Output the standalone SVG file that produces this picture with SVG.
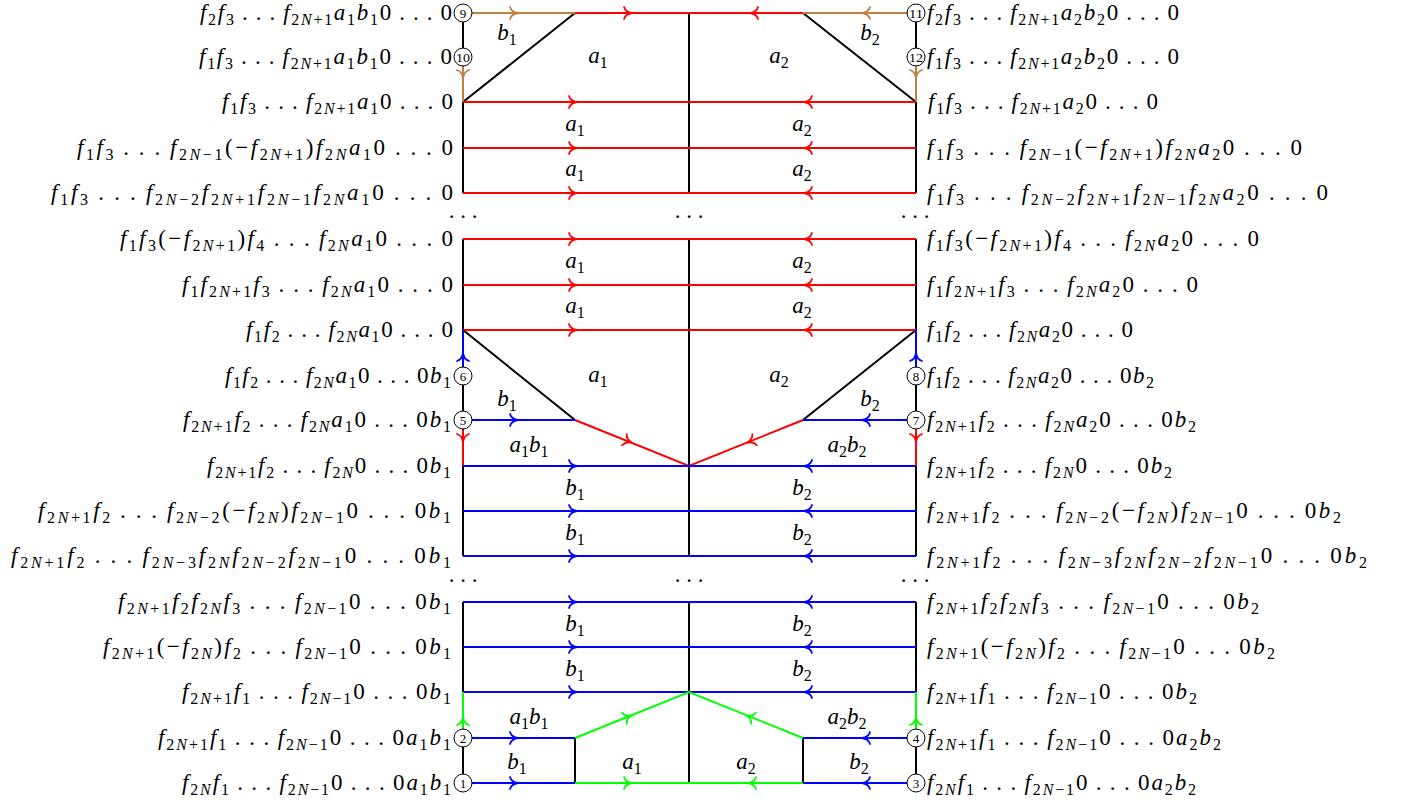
<svg xmlns="http://www.w3.org/2000/svg" width="1403" height="803" viewBox="0 0 1403 803">
<style>
.t{font-family:"Liberation Serif","Times New Roman",serif;font-size:23px;fill:#000}
.i{font-style:italic}
.s{font-size:16px;baseline-shift:-4.5px}
.c{text-anchor:middle}
.ln{fill:none;stroke-width:2}
.k{stroke:#000}.r{stroke:#f00}.b{stroke:#00f}.g{stroke:#0f0}.o{stroke:#bf8040}
.node circle{fill:#fff;stroke:#000;stroke-width:1}
.node text{font-family:"Liberation Serif","Times New Roman",serif;font-size:13px;text-anchor:middle;fill:#000}
</style>
<defs>
<path id="ar" d="M-6,-6 C-5,-2.5 -2,-0.6 2,0 M-6,6 C-5,2.5 -2,0.6 2,0" fill="none" stroke-width="1.8" stroke-linecap="round"/>
</defs>
<rect width="1403" height="803" fill="#fff"/>
<g id="connectors">
<path class="ln k" d="M575,13L463,102M803,13L916,102M689,13V193M463,13V57M916,13V57M463,102V193M916,102V193"/>
<path class="ln o" d="M463,13H575M803,13H916M463,57V102M916,57V102"/>
<path class="ln r" d="M575,13H803M463,102H916M463,148H916M463,193H916"/>
<path class="ln k" d="M689,239V556M463,239V330M916,239V330M463,376V420M916,376V420M463,466V556M916,466V556M463,330L575,420M916,330L803,420"/>
<path class="ln r" d="M463,239H916M463,285H916M463,330H916M463,420V466M916,420V466M575,420L689,466L803,420"/>
<path class="ln b" d="M463,330V376M916,330V376M463,420H575M916,420H803M463,466H916M463,511H916M463,556H916"/>
<path class="ln k" d="M689,602V783M463,602V692M916,602V692M463,738V783M916,738V783M575,738V783M803,738V783"/>
<path class="ln b" d="M463,602H916M463,647H916M463,692H916M463,738H575M463,783H575M916,738H803M916,783H803"/>
<path class="ln g" d="M463,692V738M916,692V738M575,738L689,692L803,738M575,783H803"/>
<use href="#ar" class="o" transform="translate(516,13)"/>
<use href="#ar" class="r" transform="translate(630,13)"/>
<use href="#ar" class="r" transform="translate(752,13) rotate(180)"/>
<use href="#ar" class="o" transform="translate(864,13) rotate(180)"/>
<use href="#ar" class="o" transform="translate(463,76) rotate(90)"/>
<use href="#ar" class="o" transform="translate(916,76) rotate(90)"/>
<use href="#ar" class="r" transform="translate(575,102)"/>
<use href="#ar" class="r" transform="translate(806,102) rotate(180)"/>
<use href="#ar" class="r" transform="translate(575,148)"/>
<use href="#ar" class="r" transform="translate(806,148) rotate(180)"/>
<use href="#ar" class="r" transform="translate(575,193)"/>
<use href="#ar" class="r" transform="translate(806,193) rotate(180)"/>
<use href="#ar" class="r" transform="translate(575,239)"/>
<use href="#ar" class="r" transform="translate(806,239) rotate(180)"/>
<use href="#ar" class="r" transform="translate(575,285)"/>
<use href="#ar" class="r" transform="translate(806,285) rotate(180)"/>
<use href="#ar" class="r" transform="translate(575,330)"/>
<use href="#ar" class="r" transform="translate(806,330) rotate(180)"/>
<use href="#ar" class="b" transform="translate(463,355) rotate(-90)"/>
<use href="#ar" class="b" transform="translate(916,355) rotate(-90)"/>
<use href="#ar" class="b" transform="translate(516,420)"/>
<use href="#ar" class="b" transform="translate(864,420) rotate(180)"/>
<use href="#ar" class="r" transform="translate(463,440) rotate(90)"/>
<use href="#ar" class="r" transform="translate(916,440) rotate(90)"/>
<use href="#ar" class="r" transform="translate(630,442) rotate(22)"/>
<use href="#ar" class="r" transform="translate(749,442) rotate(158)"/>
<use href="#ar" class="b" transform="translate(575,466)"/>
<use href="#ar" class="b" transform="translate(806,466) rotate(180)"/>
<use href="#ar" class="b" transform="translate(575,511)"/>
<use href="#ar" class="b" transform="translate(806,511) rotate(180)"/>
<use href="#ar" class="b" transform="translate(575,556)"/>
<use href="#ar" class="b" transform="translate(806,556) rotate(180)"/>
<use href="#ar" class="b" transform="translate(575,602)"/>
<use href="#ar" class="b" transform="translate(806,602) rotate(180)"/>
<use href="#ar" class="b" transform="translate(575,647)"/>
<use href="#ar" class="b" transform="translate(806,647) rotate(180)"/>
<use href="#ar" class="b" transform="translate(575,692)"/>
<use href="#ar" class="b" transform="translate(806,692) rotate(180)"/>
<use href="#ar" class="g" transform="translate(463,719) rotate(-90)"/>
<use href="#ar" class="g" transform="translate(916,719) rotate(-90)"/>
<use href="#ar" class="b" transform="translate(516,738)"/>
<use href="#ar" class="b" transform="translate(516,783)"/>
<use href="#ar" class="b" transform="translate(864,738) rotate(180)"/>
<use href="#ar" class="b" transform="translate(864,783) rotate(180)"/>
<use href="#ar" class="g" transform="translate(630,716) rotate(-22)"/>
<use href="#ar" class="g" transform="translate(748,716) rotate(-158)"/>
<use href="#ar" class="g" transform="translate(630,783)"/>
<use href="#ar" class="g" transform="translate(750,783) rotate(180)"/>
</g>
<g id="nodes">
<g id="n1" class="node"><circle cx="463" cy="783" r="9"/><text x="463" y="787.5">1</text></g>
<g id="n2" class="node"><circle cx="463" cy="738" r="9"/><text x="463" y="742.5">2</text></g>
<g id="n3" class="node"><circle cx="916" cy="783" r="9"/><text x="916" y="787.5">3</text></g>
<g id="n4" class="node"><circle cx="916" cy="738" r="9"/><text x="916" y="742.5">4</text></g>
<g id="n5" class="node"><circle cx="463" cy="420" r="9"/><text x="463" y="424.5">5</text></g>
<g id="n6" class="node"><circle cx="463" cy="376" r="9"/><text x="463" y="380.5">6</text></g>
<g id="n7" class="node"><circle cx="916" cy="420" r="9"/><text x="916" y="424.5">7</text></g>
<g id="n8" class="node"><circle cx="916" cy="376" r="9"/><text x="916" y="380.5">8</text></g>
<g id="n9" class="node"><circle cx="463" cy="13" r="9"/><text x="463" y="17.5">9</text></g>
<g id="n10" class="node"><circle cx="463" cy="57" r="9"/><text x="463" y="61.5" textLength="14" lengthAdjust="spacingAndGlyphs">10</text></g>
<g id="n11" class="node"><circle cx="916" cy="13" r="9"/><text x="916" y="17.5" textLength="14" lengthAdjust="spacingAndGlyphs">11</text></g>
<g id="n12" class="node"><circle cx="916" cy="57" r="9"/><text x="916" y="61.5" textLength="14" lengthAdjust="spacingAndGlyphs">12</text></g>
</g>
<g id="states-left" class="t">
<g id="L13"><text x="200" y="20" textLength="252" lengthAdjust="spacing"><tspan class="i">f</tspan><tspan class="s">2</tspan><tspan class="i">f</tspan><tspan class="s">3</tspan>&#8201;.&#8201;.&#8201;.&#8201;<tspan class="i">f</tspan><tspan class="s">2<tspan class="i">N</tspan>+1</tspan><tspan class="i">a</tspan><tspan class="s">1</tspan><tspan class="i">b</tspan><tspan class="s">1</tspan>0&#8201;.&#8201;.&#8201;.&#8201;0</text></g>
<g id="L57"><text x="199" y="64" textLength="253" lengthAdjust="spacing"><tspan class="i">f</tspan><tspan class="s">1</tspan><tspan class="i">f</tspan><tspan class="s">3</tspan>&#8201;.&#8201;.&#8201;.&#8201;<tspan class="i">f</tspan><tspan class="s">2<tspan class="i">N</tspan>+1</tspan><tspan class="i">a</tspan><tspan class="s">1</tspan><tspan class="i">b</tspan><tspan class="s">1</tspan>0&#8201;.&#8201;.&#8201;.&#8201;0</text></g>
<g id="L102"><text x="222" y="109" textLength="231" lengthAdjust="spacing"><tspan class="i">f</tspan><tspan class="s">1</tspan><tspan class="i">f</tspan><tspan class="s">3</tspan>&#8201;.&#8201;.&#8201;.&#8201;<tspan class="i">f</tspan><tspan class="s">2<tspan class="i">N</tspan>+1</tspan><tspan class="i">a</tspan><tspan class="s">1</tspan>0&#8201;.&#8201;.&#8201;.&#8201;0</text></g>
<g id="L148"><text x="77" y="155" textLength="376" lengthAdjust="spacing"><tspan class="i">f</tspan><tspan class="s">1</tspan><tspan class="i">f</tspan><tspan class="s">3</tspan>&#8201;.&#8201;.&#8201;.&#8201;<tspan class="i">f</tspan><tspan class="s">2<tspan class="i">N</tspan>−1</tspan>(−<tspan class="i">f</tspan><tspan class="s">2<tspan class="i">N</tspan>+1</tspan>)<tspan class="i">f</tspan><tspan class="s">2<tspan class="i">N</tspan></tspan><tspan class="i">a</tspan><tspan class="s">1</tspan>0&#8201;.&#8201;.&#8201;.&#8201;0</text></g>
<g id="L193"><text x="51" y="200" textLength="402" lengthAdjust="spacing"><tspan class="i">f</tspan><tspan class="s">1</tspan><tspan class="i">f</tspan><tspan class="s">3</tspan>&#8201;.&#8201;.&#8201;.&#8201;<tspan class="i">f</tspan><tspan class="s">2<tspan class="i">N</tspan>−2</tspan><tspan class="i">f</tspan><tspan class="s">2<tspan class="i">N</tspan>+1</tspan><tspan class="i">f</tspan><tspan class="s">2<tspan class="i">N</tspan>−1</tspan><tspan class="i">f</tspan><tspan class="s">2<tspan class="i">N</tspan></tspan><tspan class="i">a</tspan><tspan class="s">1</tspan>0&#8201;.&#8201;.&#8201;.&#8201;0</text></g>
<g id="L239"><text x="120" y="246" textLength="333" lengthAdjust="spacing"><tspan class="i">f</tspan><tspan class="s">1</tspan><tspan class="i">f</tspan><tspan class="s">3</tspan>(−<tspan class="i">f</tspan><tspan class="s">2<tspan class="i">N</tspan>+1</tspan>)<tspan class="i">f</tspan><tspan class="s">4</tspan>&#8201;.&#8201;.&#8201;.&#8201;<tspan class="i">f</tspan><tspan class="s">2<tspan class="i">N</tspan></tspan><tspan class="i">a</tspan><tspan class="s">1</tspan>0&#8201;.&#8201;.&#8201;.&#8201;0</text></g>
<g id="L285"><text x="182" y="292" textLength="271" lengthAdjust="spacing"><tspan class="i">f</tspan><tspan class="s">1</tspan><tspan class="i">f</tspan><tspan class="s">2<tspan class="i">N</tspan>+1</tspan><tspan class="i">f</tspan><tspan class="s">3</tspan>&#8201;.&#8201;.&#8201;.&#8201;<tspan class="i">f</tspan><tspan class="s">2<tspan class="i">N</tspan></tspan><tspan class="i">a</tspan><tspan class="s">1</tspan>0&#8201;.&#8201;.&#8201;.&#8201;0</text></g>
<g id="L330"><text x="246" y="337" textLength="207" lengthAdjust="spacing"><tspan class="i">f</tspan><tspan class="s">1</tspan><tspan class="i">f</tspan><tspan class="s">2</tspan>&#8201;.&#8201;.&#8201;.&#8201;<tspan class="i">f</tspan><tspan class="s">2<tspan class="i">N</tspan></tspan><tspan class="i">a</tspan><tspan class="s">1</tspan>0&#8201;.&#8201;.&#8201;.&#8201;0</text></g>
<g id="L376"><text x="225" y="383" textLength="226" lengthAdjust="spacing"><tspan class="i">f</tspan><tspan class="s">1</tspan><tspan class="i">f</tspan><tspan class="s">2</tspan>&#8201;.&#8201;.&#8201;.&#8201;<tspan class="i">f</tspan><tspan class="s">2<tspan class="i">N</tspan></tspan><tspan class="i">a</tspan><tspan class="s">1</tspan>0&#8201;.&#8201;.&#8201;.&#8201;0<tspan class="i">b</tspan><tspan class="s">1</tspan></text></g>
<g id="L420"><text x="183" y="427" textLength="268" lengthAdjust="spacing"><tspan class="i">f</tspan><tspan class="s">2<tspan class="i">N</tspan>+1</tspan><tspan class="i">f</tspan><tspan class="s">2</tspan>&#8201;.&#8201;.&#8201;.&#8201;<tspan class="i">f</tspan><tspan class="s">2<tspan class="i">N</tspan></tspan><tspan class="i">a</tspan><tspan class="s">1</tspan>0&#8201;.&#8201;.&#8201;.&#8201;0<tspan class="i">b</tspan><tspan class="s">1</tspan></text></g>
<g id="L466"><text x="207" y="473" textLength="244" lengthAdjust="spacing"><tspan class="i">f</tspan><tspan class="s">2<tspan class="i">N</tspan>+1</tspan><tspan class="i">f</tspan><tspan class="s">2</tspan>&#8201;.&#8201;.&#8201;.&#8201;<tspan class="i">f</tspan><tspan class="s">2<tspan class="i">N</tspan></tspan>0&#8201;.&#8201;.&#8201;.&#8201;0<tspan class="i">b</tspan><tspan class="s">1</tspan></text></g>
<g id="L511"><text x="38" y="518" textLength="413" lengthAdjust="spacing"><tspan class="i">f</tspan><tspan class="s">2<tspan class="i">N</tspan>+1</tspan><tspan class="i">f</tspan><tspan class="s">2</tspan>&#8201;.&#8201;.&#8201;.&#8201;<tspan class="i">f</tspan><tspan class="s">2<tspan class="i">N</tspan>−2</tspan>(−<tspan class="i">f</tspan><tspan class="s">2<tspan class="i">N</tspan></tspan>)<tspan class="i">f</tspan><tspan class="s">2<tspan class="i">N</tspan>−1</tspan>0&#8201;.&#8201;.&#8201;.&#8201;0<tspan class="i">b</tspan><tspan class="s">1</tspan></text></g>
<g id="L556"><text x="11" y="563" textLength="440" lengthAdjust="spacing"><tspan class="i">f</tspan><tspan class="s">2<tspan class="i">N</tspan>+1</tspan><tspan class="i">f</tspan><tspan class="s">2</tspan>&#8201;.&#8201;.&#8201;.&#8201;<tspan class="i">f</tspan><tspan class="s">2<tspan class="i">N</tspan>−3</tspan><tspan class="i">f</tspan><tspan class="s">2<tspan class="i">N</tspan></tspan><tspan class="i">f</tspan><tspan class="s">2<tspan class="i">N</tspan>−2</tspan><tspan class="i">f</tspan><tspan class="s">2<tspan class="i">N</tspan>−1</tspan>0&#8201;.&#8201;.&#8201;.&#8201;0<tspan class="i">b</tspan><tspan class="s">1</tspan></text></g>
<g id="L602"><text x="118" y="609" textLength="333" lengthAdjust="spacing"><tspan class="i">f</tspan><tspan class="s">2<tspan class="i">N</tspan>+1</tspan><tspan class="i">f</tspan><tspan class="s">2</tspan><tspan class="i">f</tspan><tspan class="s">2<tspan class="i">N</tspan></tspan><tspan class="i">f</tspan><tspan class="s">3</tspan>&#8201;.&#8201;.&#8201;.&#8201;<tspan class="i">f</tspan><tspan class="s">2<tspan class="i">N</tspan>−1</tspan>0&#8201;.&#8201;.&#8201;.&#8201;0<tspan class="i">b</tspan><tspan class="s">1</tspan></text></g>
<g id="L647"><text x="103" y="654" textLength="348" lengthAdjust="spacing"><tspan class="i">f</tspan><tspan class="s">2<tspan class="i">N</tspan>+1</tspan>(−<tspan class="i">f</tspan><tspan class="s">2<tspan class="i">N</tspan></tspan>)<tspan class="i">f</tspan><tspan class="s">2</tspan>&#8201;.&#8201;.&#8201;.&#8201;<tspan class="i">f</tspan><tspan class="s">2<tspan class="i">N</tspan>−1</tspan>0&#8201;.&#8201;.&#8201;.&#8201;0<tspan class="i">b</tspan><tspan class="s">1</tspan></text></g>
<g id="L692"><text x="182" y="699" textLength="269" lengthAdjust="spacing"><tspan class="i">f</tspan><tspan class="s">2<tspan class="i">N</tspan>+1</tspan><tspan class="i">f</tspan><tspan class="s">1</tspan>&#8201;.&#8201;.&#8201;.&#8201;<tspan class="i">f</tspan><tspan class="s">2<tspan class="i">N</tspan>−1</tspan>0&#8201;.&#8201;.&#8201;.&#8201;0<tspan class="i">b</tspan><tspan class="s">1</tspan></text></g>
<g id="L738"><text x="158" y="745" textLength="293" lengthAdjust="spacing"><tspan class="i">f</tspan><tspan class="s">2<tspan class="i">N</tspan>+1</tspan><tspan class="i">f</tspan><tspan class="s">1</tspan>&#8201;.&#8201;.&#8201;.&#8201;<tspan class="i">f</tspan><tspan class="s">2<tspan class="i">N</tspan>−1</tspan>0&#8201;.&#8201;.&#8201;.&#8201;0<tspan class="i">a</tspan><tspan class="s">1</tspan><tspan class="i">b</tspan><tspan class="s">1</tspan></text></g>
<g id="L783"><text x="182" y="790" textLength="269" lengthAdjust="spacing"><tspan class="i">f</tspan><tspan class="s">2<tspan class="i">N</tspan></tspan><tspan class="i">f</tspan><tspan class="s">1</tspan>&#8201;.&#8201;.&#8201;.&#8201;<tspan class="i">f</tspan><tspan class="s">2<tspan class="i">N</tspan>−1</tspan>0&#8201;.&#8201;.&#8201;.&#8201;0<tspan class="i">a</tspan><tspan class="s">1</tspan><tspan class="i">b</tspan><tspan class="s">1</tspan></text></g>
</g>
<g id="states-right" class="t">
<g id="R13"><text x="927" y="20" textLength="252" lengthAdjust="spacing"><tspan class="i">f</tspan><tspan class="s">2</tspan><tspan class="i">f</tspan><tspan class="s">3</tspan>&#8201;.&#8201;.&#8201;.&#8201;<tspan class="i">f</tspan><tspan class="s">2<tspan class="i">N</tspan>+1</tspan><tspan class="i">a</tspan><tspan class="s">2</tspan><tspan class="i">b</tspan><tspan class="s">2</tspan>0&#8201;.&#8201;.&#8201;.&#8201;0</text></g>
<g id="R57"><text x="927" y="64" textLength="252" lengthAdjust="spacing"><tspan class="i">f</tspan><tspan class="s">1</tspan><tspan class="i">f</tspan><tspan class="s">3</tspan>&#8201;.&#8201;.&#8201;.&#8201;<tspan class="i">f</tspan><tspan class="s">2<tspan class="i">N</tspan>+1</tspan><tspan class="i">a</tspan><tspan class="s">2</tspan><tspan class="i">b</tspan><tspan class="s">2</tspan>0&#8201;.&#8201;.&#8201;.&#8201;0</text></g>
<g id="R102"><text x="928" y="109" textLength="230" lengthAdjust="spacing"><tspan class="i">f</tspan><tspan class="s">1</tspan><tspan class="i">f</tspan><tspan class="s">3</tspan>&#8201;.&#8201;.&#8201;.&#8201;<tspan class="i">f</tspan><tspan class="s">2<tspan class="i">N</tspan>+1</tspan><tspan class="i">a</tspan><tspan class="s">2</tspan>0&#8201;.&#8201;.&#8201;.&#8201;0</text></g>
<g id="R148"><text x="927" y="155" textLength="375" lengthAdjust="spacing"><tspan class="i">f</tspan><tspan class="s">1</tspan><tspan class="i">f</tspan><tspan class="s">3</tspan>&#8201;.&#8201;.&#8201;.&#8201;<tspan class="i">f</tspan><tspan class="s">2<tspan class="i">N</tspan>−1</tspan>(−<tspan class="i">f</tspan><tspan class="s">2<tspan class="i">N</tspan>+1</tspan>)<tspan class="i">f</tspan><tspan class="s">2<tspan class="i">N</tspan></tspan><tspan class="i">a</tspan><tspan class="s">2</tspan>0&#8201;.&#8201;.&#8201;.&#8201;0</text></g>
<g id="R193"><text x="927" y="200" textLength="401" lengthAdjust="spacing"><tspan class="i">f</tspan><tspan class="s">1</tspan><tspan class="i">f</tspan><tspan class="s">3</tspan>&#8201;.&#8201;.&#8201;.&#8201;<tspan class="i">f</tspan><tspan class="s">2<tspan class="i">N</tspan>−2</tspan><tspan class="i">f</tspan><tspan class="s">2<tspan class="i">N</tspan>+1</tspan><tspan class="i">f</tspan><tspan class="s">2<tspan class="i">N</tspan>−1</tspan><tspan class="i">f</tspan><tspan class="s">2<tspan class="i">N</tspan></tspan><tspan class="i">a</tspan><tspan class="s">2</tspan>0&#8201;.&#8201;.&#8201;.&#8201;0</text></g>
<g id="R239"><text x="927" y="246" textLength="332" lengthAdjust="spacing"><tspan class="i">f</tspan><tspan class="s">1</tspan><tspan class="i">f</tspan><tspan class="s">3</tspan>(−<tspan class="i">f</tspan><tspan class="s">2<tspan class="i">N</tspan>+1</tspan>)<tspan class="i">f</tspan><tspan class="s">4</tspan>&#8201;.&#8201;.&#8201;.&#8201;<tspan class="i">f</tspan><tspan class="s">2<tspan class="i">N</tspan></tspan><tspan class="i">a</tspan><tspan class="s">2</tspan>0&#8201;.&#8201;.&#8201;.&#8201;0</text></g>
<g id="R285"><text x="927" y="292" textLength="271" lengthAdjust="spacing"><tspan class="i">f</tspan><tspan class="s">1</tspan><tspan class="i">f</tspan><tspan class="s">2<tspan class="i">N</tspan>+1</tspan><tspan class="i">f</tspan><tspan class="s">3</tspan>&#8201;.&#8201;.&#8201;.&#8201;<tspan class="i">f</tspan><tspan class="s">2<tspan class="i">N</tspan></tspan><tspan class="i">a</tspan><tspan class="s">2</tspan>0&#8201;.&#8201;.&#8201;.&#8201;0</text></g>
<g id="R330"><text x="927" y="337" textLength="206" lengthAdjust="spacing"><tspan class="i">f</tspan><tspan class="s">1</tspan><tspan class="i">f</tspan><tspan class="s">2</tspan>&#8201;.&#8201;.&#8201;.&#8201;<tspan class="i">f</tspan><tspan class="s">2<tspan class="i">N</tspan></tspan><tspan class="i">a</tspan><tspan class="s">2</tspan>0&#8201;.&#8201;.&#8201;.&#8201;0</text></g>
<g id="R376"><text x="927" y="383" textLength="227" lengthAdjust="spacing"><tspan class="i">f</tspan><tspan class="s">1</tspan><tspan class="i">f</tspan><tspan class="s">2</tspan>&#8201;.&#8201;.&#8201;.&#8201;<tspan class="i">f</tspan><tspan class="s">2<tspan class="i">N</tspan></tspan><tspan class="i">a</tspan><tspan class="s">2</tspan>0&#8201;.&#8201;.&#8201;.&#8201;0<tspan class="i">b</tspan><tspan class="s">2</tspan></text></g>
<g id="R420"><text x="927" y="427" textLength="269" lengthAdjust="spacing"><tspan class="i">f</tspan><tspan class="s">2<tspan class="i">N</tspan>+1</tspan><tspan class="i">f</tspan><tspan class="s">2</tspan>&#8201;.&#8201;.&#8201;.&#8201;<tspan class="i">f</tspan><tspan class="s">2<tspan class="i">N</tspan></tspan><tspan class="i">a</tspan><tspan class="s">2</tspan>0&#8201;.&#8201;.&#8201;.&#8201;0<tspan class="i">b</tspan><tspan class="s">2</tspan></text></g>
<g id="R466"><text x="927" y="473" textLength="245" lengthAdjust="spacing"><tspan class="i">f</tspan><tspan class="s">2<tspan class="i">N</tspan>+1</tspan><tspan class="i">f</tspan><tspan class="s">2</tspan>&#8201;.&#8201;.&#8201;.&#8201;<tspan class="i">f</tspan><tspan class="s">2<tspan class="i">N</tspan></tspan>0&#8201;.&#8201;.&#8201;.&#8201;0<tspan class="i">b</tspan><tspan class="s">2</tspan></text></g>
<g id="R511"><text x="927" y="518" textLength="414" lengthAdjust="spacing"><tspan class="i">f</tspan><tspan class="s">2<tspan class="i">N</tspan>+1</tspan><tspan class="i">f</tspan><tspan class="s">2</tspan>&#8201;.&#8201;.&#8201;.&#8201;<tspan class="i">f</tspan><tspan class="s">2<tspan class="i">N</tspan>−2</tspan>(−<tspan class="i">f</tspan><tspan class="s">2<tspan class="i">N</tspan></tspan>)<tspan class="i">f</tspan><tspan class="s">2<tspan class="i">N</tspan>−1</tspan>0&#8201;.&#8201;.&#8201;.&#8201;0<tspan class="i">b</tspan><tspan class="s">2</tspan></text></g>
<g id="R556"><text x="927" y="563" textLength="440" lengthAdjust="spacing"><tspan class="i">f</tspan><tspan class="s">2<tspan class="i">N</tspan>+1</tspan><tspan class="i">f</tspan><tspan class="s">2</tspan>&#8201;.&#8201;.&#8201;.&#8201;<tspan class="i">f</tspan><tspan class="s">2<tspan class="i">N</tspan>−3</tspan><tspan class="i">f</tspan><tspan class="s">2<tspan class="i">N</tspan></tspan><tspan class="i">f</tspan><tspan class="s">2<tspan class="i">N</tspan>−2</tspan><tspan class="i">f</tspan><tspan class="s">2<tspan class="i">N</tspan>−1</tspan>0&#8201;.&#8201;.&#8201;.&#8201;0<tspan class="i">b</tspan><tspan class="s">2</tspan></text></g>
<g id="R602"><text x="927" y="609" textLength="332" lengthAdjust="spacing"><tspan class="i">f</tspan><tspan class="s">2<tspan class="i">N</tspan>+1</tspan><tspan class="i">f</tspan><tspan class="s">2</tspan><tspan class="i">f</tspan><tspan class="s">2<tspan class="i">N</tspan></tspan><tspan class="i">f</tspan><tspan class="s">3</tspan>&#8201;.&#8201;.&#8201;.&#8201;<tspan class="i">f</tspan><tspan class="s">2<tspan class="i">N</tspan>−1</tspan>0&#8201;.&#8201;.&#8201;.&#8201;0<tspan class="i">b</tspan><tspan class="s">2</tspan></text></g>
<g id="R647"><text x="927" y="654" textLength="348" lengthAdjust="spacing"><tspan class="i">f</tspan><tspan class="s">2<tspan class="i">N</tspan>+1</tspan>(−<tspan class="i">f</tspan><tspan class="s">2<tspan class="i">N</tspan></tspan>)<tspan class="i">f</tspan><tspan class="s">2</tspan>&#8201;.&#8201;.&#8201;.&#8201;<tspan class="i">f</tspan><tspan class="s">2<tspan class="i">N</tspan>−1</tspan>0&#8201;.&#8201;.&#8201;.&#8201;0<tspan class="i">b</tspan><tspan class="s">2</tspan></text></g>
<g id="R692"><text x="927" y="699" textLength="270" lengthAdjust="spacing"><tspan class="i">f</tspan><tspan class="s">2<tspan class="i">N</tspan>+1</tspan><tspan class="i">f</tspan><tspan class="s">1</tspan>&#8201;.&#8201;.&#8201;.&#8201;<tspan class="i">f</tspan><tspan class="s">2<tspan class="i">N</tspan>−1</tspan>0&#8201;.&#8201;.&#8201;.&#8201;0<tspan class="i">b</tspan><tspan class="s">2</tspan></text></g>
<g id="R738"><text x="927" y="745" textLength="294" lengthAdjust="spacing"><tspan class="i">f</tspan><tspan class="s">2<tspan class="i">N</tspan>+1</tspan><tspan class="i">f</tspan><tspan class="s">1</tspan>&#8201;.&#8201;.&#8201;.&#8201;<tspan class="i">f</tspan><tspan class="s">2<tspan class="i">N</tspan>−1</tspan>0&#8201;.&#8201;.&#8201;.&#8201;0<tspan class="i">a</tspan><tspan class="s">2</tspan><tspan class="i">b</tspan><tspan class="s">2</tspan></text></g>
<g id="R783"><text x="927" y="790" textLength="269" lengthAdjust="spacing"><tspan class="i">f</tspan><tspan class="s">2<tspan class="i">N</tspan></tspan><tspan class="i">f</tspan><tspan class="s">1</tspan>&#8201;.&#8201;.&#8201;.&#8201;<tspan class="i">f</tspan><tspan class="s">2<tspan class="i">N</tspan>−1</tspan>0&#8201;.&#8201;.&#8201;.&#8201;0<tspan class="i">a</tspan><tspan class="s">2</tspan><tspan class="i">b</tspan><tspan class="s">2</tspan></text></g>
</g>
<g id="region-labels" class="t c">
<text x="507" y="40"><tspan class="i">b</tspan><tspan class="s">1</tspan></text>
<text x="598" y="63"><tspan class="i">a</tspan><tspan class="s">1</tspan></text>
<text x="779" y="63"><tspan class="i">a</tspan><tspan class="s">2</tspan></text>
<text x="870" y="40"><tspan class="i">b</tspan><tspan class="s">2</tspan></text>
<text x="575" y="131"><tspan class="i">a</tspan><tspan class="s">1</tspan></text>
<text x="802" y="131"><tspan class="i">a</tspan><tspan class="s">2</tspan></text>
<text x="575" y="176"><tspan class="i">a</tspan><tspan class="s">1</tspan></text>
<text x="802" y="176"><tspan class="i">a</tspan><tspan class="s">2</tspan></text>
<text x="575" y="268"><tspan class="i">a</tspan><tspan class="s">1</tspan></text>
<text x="802" y="268"><tspan class="i">a</tspan><tspan class="s">2</tspan></text>
<text x="575" y="313"><tspan class="i">a</tspan><tspan class="s">1</tspan></text>
<text x="802" y="313"><tspan class="i">a</tspan><tspan class="s">2</tspan></text>
<text x="598" y="382"><tspan class="i">a</tspan><tspan class="s">1</tspan></text>
<text x="779" y="382"><tspan class="i">a</tspan><tspan class="s">2</tspan></text>
<text x="507" y="406"><tspan class="i">b</tspan><tspan class="s">1</tspan></text>
<text x="870" y="406"><tspan class="i">b</tspan><tspan class="s">2</tspan></text>
<text x="529" y="452"><tspan class="i">a</tspan><tspan class="s">1</tspan><tspan class="i">b</tspan><tspan class="s">1</tspan></text>
<text x="847" y="452"><tspan class="i">a</tspan><tspan class="s">2</tspan><tspan class="i">b</tspan><tspan class="s">2</tspan></text>
<text x="575" y="495"><tspan class="i">b</tspan><tspan class="s">1</tspan></text>
<text x="802" y="495"><tspan class="i">b</tspan><tspan class="s">2</tspan></text>
<text x="575" y="540"><tspan class="i">b</tspan><tspan class="s">1</tspan></text>
<text x="802" y="540"><tspan class="i">b</tspan><tspan class="s">2</tspan></text>
<text x="575" y="631"><tspan class="i">b</tspan><tspan class="s">1</tspan></text>
<text x="802" y="631"><tspan class="i">b</tspan><tspan class="s">2</tspan></text>
<text x="575" y="676"><tspan class="i">b</tspan><tspan class="s">1</tspan></text>
<text x="802" y="676"><tspan class="i">b</tspan><tspan class="s">2</tspan></text>
<text x="529" y="724"><tspan class="i">a</tspan><tspan class="s">1</tspan><tspan class="i">b</tspan><tspan class="s">1</tspan></text>
<text x="847" y="724"><tspan class="i">a</tspan><tspan class="s">2</tspan><tspan class="i">b</tspan><tspan class="s">2</tspan></text>
<text x="517" y="769"><tspan class="i">b</tspan><tspan class="s">1</tspan></text>
<text x="632" y="769"><tspan class="i">a</tspan><tspan class="s">1</tspan></text>
<text x="746" y="769"><tspan class="i">a</tspan><tspan class="s">2</tspan></text>
<text x="859" y="769"><tspan class="i">b</tspan><tspan class="s">2</tspan></text>
</g>
<g id="ellipses" class="t c">
<text x="463" y="218">. . .</text>
<text x="689" y="218">. . .</text>
<text x="915" y="218">. . .</text>
<text x="463" y="582">. . .</text>
<text x="689" y="582">. . .</text>
<text x="915" y="582">. . .</text>
</g>
</svg>
